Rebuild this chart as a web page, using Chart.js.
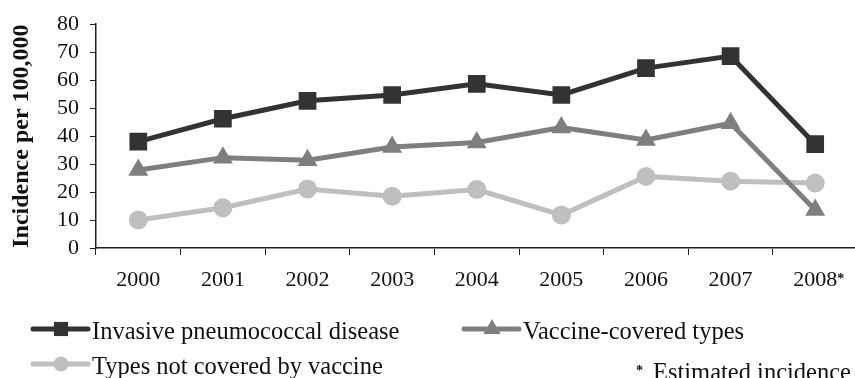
<!DOCTYPE html>
<html>
<head>
<meta charset="utf-8">
<script src="https://cdn.jsdelivr.net/npm/chart.js@4/dist/chart.umd.min.js"></script>
<style>
  html, body { margin: 0; padding: 0; background: #fff; overflow: hidden; }
  #wrap { width: 870px; height: 378px; }
</style>
</head>
<body>
<div id="wrap"><canvas id="myChart" width="870" height="378"></canvas></div>
<script>
// years on the x axis (2008 is an estimate)
const years = ['2000', '2001', '2002', '2003', '2004', '2005', '2006', '2007', '2008'];

// incidence per 100,000
const invasive = [38, 46.2, 52.6, 54.7, 58.7, 54.7, 64.3, 68.6, 37.1];
const vaccineCovered = [27.9, 32.3, 31.4, 36.1, 37.7, 43.1, 38.6, 44.6, 13.6];
const notCovered = [10, 14.4, 21.1, 18.5, 20.9, 11.8, 25.6, 23.9, 23.2];

const yTicks = [0, 10, 20, 30, 40, 50, 60, 70, 80];

const serif = "'Liberation Serif', 'Times New Roman', serif";

// marker helper, used for the legend only
function drawMarker(ctx, style, x, y, r, color) {
  ctx.save();
  ctx.fillStyle = color;
  ctx.beginPath();
  if (style === 'rect') {
    const s = r * Math.SQRT1_2;
    ctx.rect(x - s, y - s, 2 * s, 2 * s);
  } else if (style === 'triangle') {
    ctx.moveTo(x, y - r);
    ctx.lineTo(x + r * 0.866, y + r * 0.5);
    ctx.lineTo(x - r * 0.866, y + r * 0.5);
    ctx.closePath();
  } else {
    ctx.arc(x, y, r, 0, Math.PI * 2);
  }
  ctx.fill();
  ctx.restore();
}

// legend + footnotes drawn after the chart
const extrasPlugin = {
  id: 'extras',
  afterDraw(chart) {
    const ctx = chart.ctx;
    const legendPos = [
      { x: 33, y: 329, r: 10 },
      { x: 464, y: 329, r: 10 },
      { x: 33, y: 364, r: 7.5 }
    ];
    chart.data.datasets.forEach((ds, i) => {
      const p = legendPos[i];
      ctx.save();
      ctx.strokeStyle = ds.borderColor;
      ctx.lineWidth = 5;
      ctx.lineCap = 'round';
      ctx.beginPath();
      ctx.moveTo(p.x, p.y);
      ctx.lineTo(p.x + 55, p.y);
      ctx.stroke();
      ctx.restore();
      drawMarker(ctx, ds.pointStyle, p.x + 28, p.y, p.r, ds.backgroundColor);
      ctx.save();
      ctx.fillStyle = '#111';
      ctx.font = '24.5px ' + serif;
      ctx.textBaseline = 'alphabetic';
      ctx.fillText(ds.label, p.x + 59, p.y + 10);
      ctx.restore();
    });

    // asterisk next to 2008
    const xs = chart.scales.x;
    ctx.save();
    ctx.fillStyle = '#111';
    ctx.font = '22px ' + serif;
    const w = ctx.measureText(years[8]).width;
    ctx.font = 'bold 14px ' + serif;
    ctx.fillText('*', xs.getPixelForValue(8) + w / 2, 283);

    // footnote
    ctx.fillText('*', 636, 375);
    ctx.font = '24.5px ' + serif;
    ctx.fillText('Estimated incidence', 653, 380);
    ctx.restore();
  }
};

const ctx = document.getElementById('myChart');

new Chart(ctx, {
  type: 'line',
  data: {
    labels: years,
    datasets: [
      {
        label: 'Invasive pneumococcal disease',
        data: invasive,
        borderColor: '#333333',
        backgroundColor: '#333333',
        borderWidth: 5,
        pointStyle: 'rect',
        pointRadius: 12.5,
        pointHoverRadius: 12.5,
        pointBorderWidth: 0
      },
      {
        label: 'Vaccine-covered types',
        data: vaccineCovered,
        borderColor: '#7f7f7f',
        backgroundColor: '#7f7f7f',
        borderWidth: 5,
        pointStyle: 'triangle',
        pointRadius: 11.5,
        pointHoverRadius: 11.5,
        pointBorderWidth: 0
      },
      {
        label: 'Types not covered by vaccine',
        data: notCovered,
        borderColor: '#bfbfbf',
        backgroundColor: '#bfbfbf',
        borderWidth: 5,
        pointStyle: 'circle',
        pointRadius: 9.5,
        pointHoverRadius: 9.5,
        pointBorderWidth: 0
      }
    ]
  },
  options: {
    responsive: false,
    animation: false,
    layout: {
      padding: { top: 19, right: 7, left: 0, bottom: 0 }
    },
    scales: {
      x: {
        offset: true,
        grid: {
          offset: true,
          drawOnChartArea: false,
          tickLength: 7,
          color: '#222'
        },
        border: { color: '#222', width: 1.5 },
        ticks: {
          color: '#111',
          font: { family: serif, size: 22 },
          padding: 12,
          maxRotation: 0,
          autoSkip: false
        },
        afterFit: scale => { scale.height = 130; }
      },
      y: {
        min: 0,
        max: 80,
        afterBuildTicks: scale => { scale.ticks = yTicks.map(v => ({ value: v })); },
        grid: {
          drawOnChartArea: false,
          tickLength: 6,
          color: '#222'
        },
        border: { color: '#222', width: 1.5 },
        ticks: {
          color: '#111',
          font: { family: serif, size: 22 },
          padding: 11,
          autoSkip: false
        },
        title: {
          display: true,
          text: 'Incidence per 100,000',
          color: '#111',
          font: { family: serif, size: 24, weight: 'bold' },
          padding: { top: 7, bottom: 0 }
        },
        afterFit: scale => { scale.width = 96; }
      }
    },
    plugins: {
      legend: { display: false },
      tooltip: { enabled: false }
    }
  },
  plugins: [extrasPlugin]
});
</script>
</body>
</html>
